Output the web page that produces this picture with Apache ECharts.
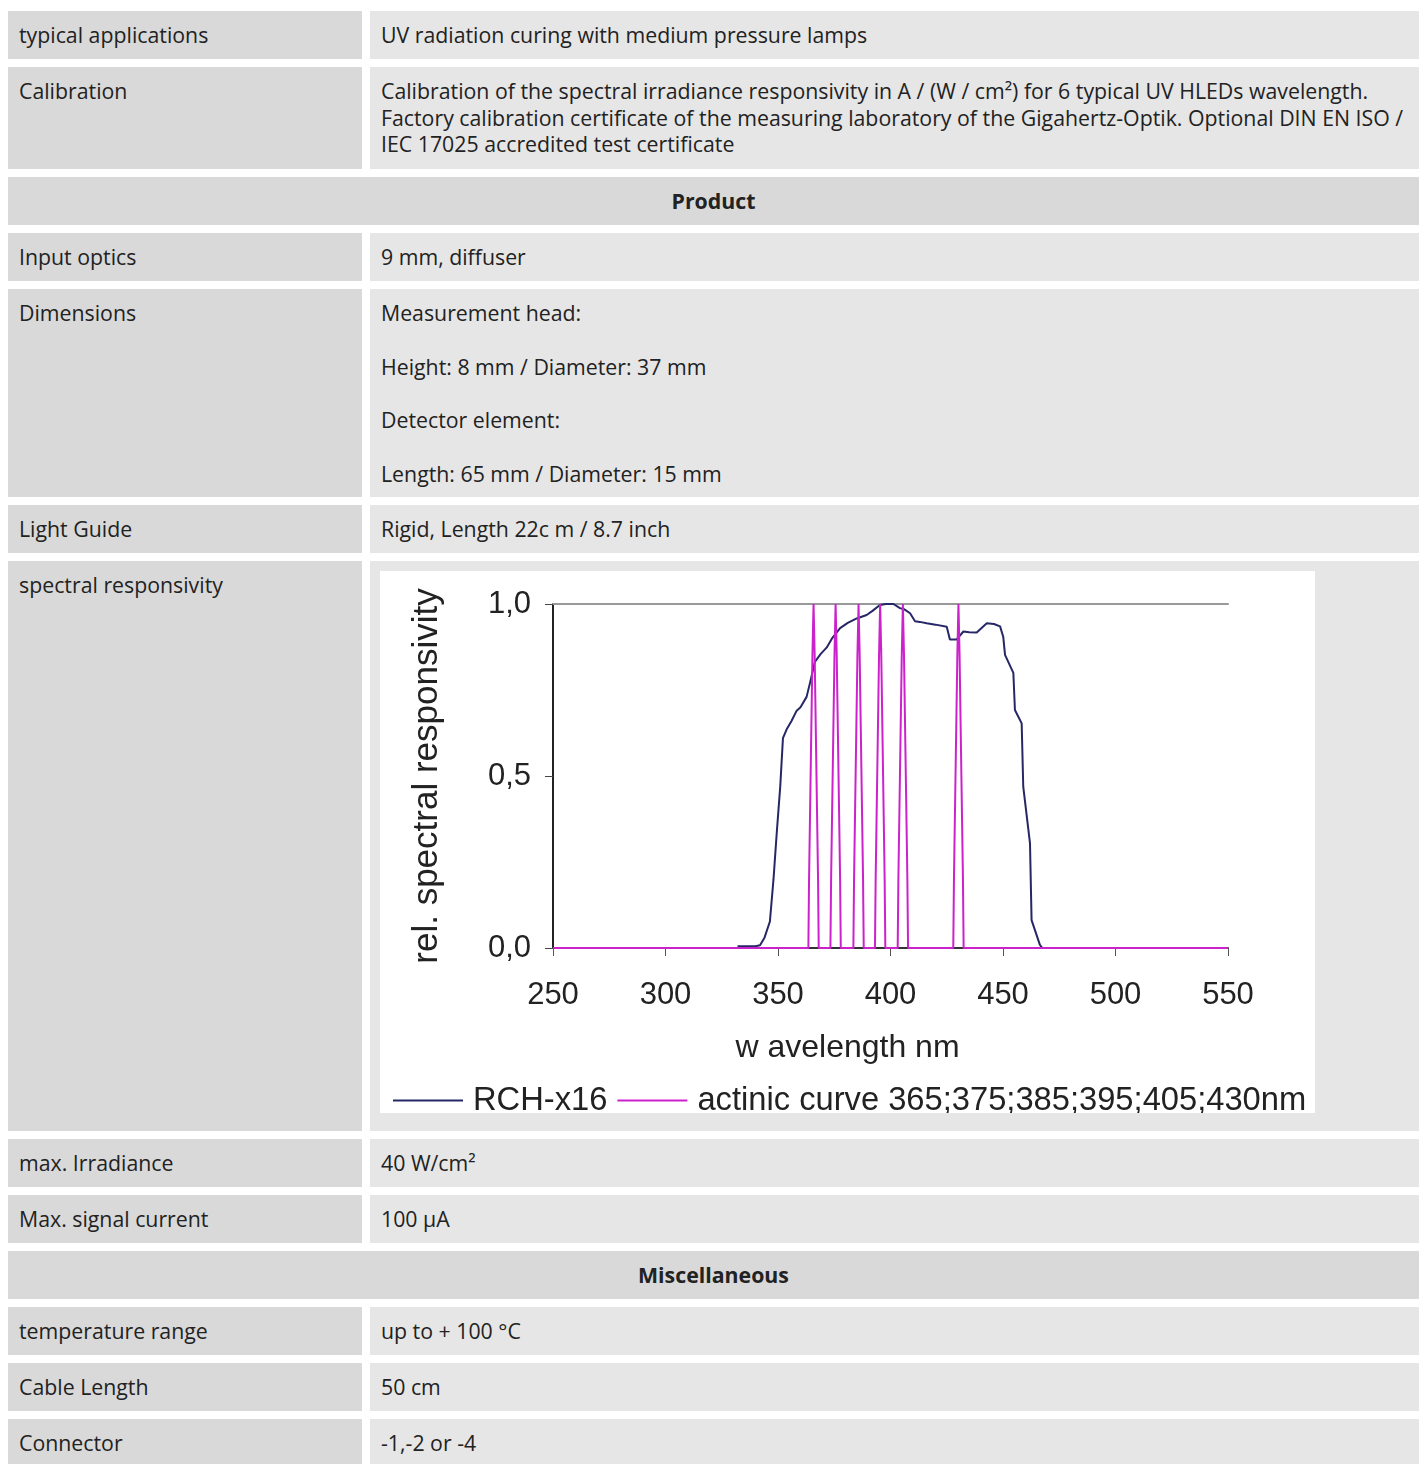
<!DOCTYPE html>
<html>
<head>
<meta charset="utf-8">
<script src="https://cdn.jsdelivr.net/npm/echarts@6/dist/echarts.min.js"></script>
<style>
  html, body { margin: 0; padding: 0; background: #fff; }
  body { width: 1419px; height: 1464px; overflow: hidden; font-family: "Open Sans", sans-serif; font-size: 21.3px; color: #222; }
  .wrap { position: absolute; left: 8px; top: 11px; width: 1411px; }
  .row { display: flex; margin-bottom: 8px; height: 48px; }
  .row.cal { height: 102px; }
  .row.dim { height: 208px; }
  .row.spec { height: 570px; }
  .l { width: 354px; background: #d9d9d9; padding: 11px 11px; box-sizing: border-box; line-height: 26.5px; flex: none; }
  .r { width: 1049px; margin-left: 8px; background: #e6e6e6; padding: 11px 11px; box-sizing: border-box; line-height: 26.5px; flex: none; }
  .h { width: 1411px; background: #d9d9d9; padding: 11px; box-sizing: border-box; line-height: 26.5px; text-align: center; font-weight: bold; }
  .r p { margin: 0 0 27px 0; }
  .r p:last-child { margin-bottom: 0; }
  .nw { white-space: nowrap; }
  #chart { width: 935px; height: 542px; background: #fff; }
  .chartcell { padding: 10px 10px 18px 10px; }
</style>
</head>
<body>
<div class="wrap">
  <div class="row"><div class="l">typical applications</div><div class="r">UV radiation curing with medium pressure lamps</div></div>
  <div class="row cal"><div class="l">Calibration</div><div class="r nw">Calibration of the spectral irradiance responsivity in A / (W / cm²) for 6 typical UV HLEDs wavelength.<br>Factory calibration certificate of the measuring laboratory of the Gigahertz-Optik. Optional DIN EN ISO /<br>IEC 17025 accredited test certificate</div></div>
  <div class="row"><div class="h">Product</div></div>
  <div class="row"><div class="l">Input optics</div><div class="r">9 mm, diffuser</div></div>
  <div class="row dim"><div class="l">Dimensions</div><div class="r"><p>Measurement head:</p><p>Height: 8 mm / Diameter: 37 mm</p><p>Detector element:</p><p>Length: 65 mm / Diameter: 15 mm</p></div></div>
  <div class="row"><div class="l">Light Guide</div><div class="r">Rigid, Length 22c m / 8.7 inch</div></div>
  <div class="row spec"><div class="l">spectral responsivity</div><div class="r chartcell"><div id="chart"></div></div></div>
  <div class="row"><div class="l">max. Irradiance</div><div class="r">40 W/cm²</div></div>
  <div class="row"><div class="l">Max. signal current</div><div class="r">100 µA</div></div>
  <div class="row"><div class="h">Miscellaneous</div></div>
  <div class="row"><div class="l">temperature range</div><div class="r">up to + 100 °C</div></div>
  <div class="row"><div class="l">Cable Length</div><div class="r">50 cm</div></div>
  <div class="row"><div class="l">Connector</div><div class="r">-1,-2 or -4</div></div>
</div>
<script>
// ---- data ----
const seriesNames = ["RCH-x16", "actinic curve 365;375;385;395;405;430nm"];
const xTicks = [250, 300, 350, 400, 450, 500, 550];
const yTickLabels = ["0,0", "0,5", "1,0"];

const rchWavelength = [332, 340, 342, 344, 346.4, 348, 349.5, 351, 352.2, 353.8, 356, 358.3, 360, 362.7, 364.2, 366.4, 369, 371.6, 374, 377.6, 381, 385, 389.4, 392, 395.3, 398, 401.3, 404.2, 406, 408.7, 410.9, 413, 416.1, 420, 425, 426.4, 429.4, 432.4, 435, 438.3, 442.8, 446, 448.7, 450.1, 450.9, 454.6, 455.3, 458.3, 459, 462, 462.7, 466.4, 467.5];
const rchValue      = [0.005, 0.005, 0.008, 0.03, 0.077, 0.2, 0.34, 0.47, 0.61, 0.635, 0.66, 0.69, 0.70, 0.73, 0.77, 0.832, 0.855, 0.873, 0.90, 0.93, 0.945, 0.958, 0.968, 0.98, 0.997, 1.0, 1.0, 0.988, 0.985, 0.973, 0.95, 0.948, 0.944, 0.94, 0.934, 0.897, 0.897, 0.92, 0.918, 0.917, 0.944, 0.942, 0.935, 0.905, 0.852, 0.80, 0.692, 0.653, 0.469, 0.304, 0.081, 0.009, 0];

const actinicWavelength = [250,
  363.5, 363.8, 365.3, 365.8, 366.3, 367.8, 368.1,
  373.3, 373.6, 375.1, 375.6, 376.1, 377.6, 377.9,
  383.5, 383.8, 385.3, 385.8, 386.3, 387.8, 388.1,
  393.1, 393.4, 394.9, 395.4, 395.9, 397.4, 397.7,
  403.2, 403.5, 405.0, 405.5, 406.0, 407.5, 407.8,
  427.9, 428.2, 429.7, 430.2, 430.7, 432.2, 432.5,
  550];
const actinicValue = [0,
  0, 0.2, 0.85, 1, 0.85, 0.2, 0,
  0, 0.2, 0.85, 1, 0.85, 0.2, 0,
  0, 0.2, 0.85, 1, 0.85, 0.2, 0,
  0, 0.2, 0.85, 1, 0.85, 0.2, 0,
  0, 0.2, 0.85, 1, 0.85, 0.2, 0,
  0, 0.2, 0.85, 1, 0.85, 0.2, 0,
  0];

const pair = (xs, ys) => xs.map((x, i) => [x, ys[i]]);
const FONT = "'Liberation Sans', Arial, sans-serif";
const chart = echarts.init(document.getElementById('chart'));
chart.setOption({
  animation: false,
  backgroundColor: '#ffffff',
  textStyle: { fontFamily: FONT },
  grid: { left: 173, top: 33, width: 675, height: 344 },
  legend: {
    left: 8, top: 508, itemWidth: 70, itemHeight: 2, itemGap: 10, icon: 'rect',
    textStyle: { fontFamily: FONT, fontSize: 32.7, color: '#222', padding: [0, 0, 0, 5] },
    data: seriesNames
  },
  xAxis: [{
    type: 'value', min: xTicks[0], max: xTicks[xTicks.length - 1], interval: 50,
    name: 'w avelength nm', nameLocation: 'middle', nameGap: 84,
    nameTextStyle: { fontFamily: FONT, fontSize: 32, color: '#222', padding: [0, 86, 0, 0] },
    axisLine: { lineStyle: { color: '#333', width: 2 } },
    axisTick: { length: 8, lineStyle: { color: '#555', width: 1 } },
    axisLabel: { fontFamily: FONT, fontSize: 31, color: '#222', margin: 32 },
    splitLine: { show: false }
  }, {
    type: 'value', min: xTicks[0], max: xTicks[xTicks.length - 1], position: 'top',
    axisLine: { lineStyle: { color: '#999', width: 2 } },
    axisTick: { show: false }, axisLabel: { show: false }, splitLine: { show: false }
  }],
  yAxis: {
    type: 'value', min: 0, max: 1, interval: 0.5,
    name: 'rel. spectral responsivity', nameLocation: 'middle', nameGap: 108,
    nameTextStyle: { fontFamily: FONT, fontSize: 35, color: '#222' },
    axisLine: { show: true, lineStyle: { color: '#222', width: 2 } },
    axisTick: { show: true, length: 8, lineStyle: { color: '#444' } },
    axisLabel: { fontFamily: FONT, fontSize: 31, color: '#222', margin: 22,
      formatter: (v) => yTickLabels[Math.round(v * 2)] },
    splitLine: { show: false }
  },
  series: [{
    name: seriesNames[0], type: 'line', symbol: 'none', z: 2,
    lineStyle: { color: '#262766', width: 2 }, itemStyle: { color: '#262766' },
    data: pair(rchWavelength, rchValue)
  }, {
    name: seriesNames[1], type: 'line', symbol: 'none', z: 3,
    lineStyle: { color: '#cc22cc', width: 2 }, itemStyle: { color: '#cc22cc' },
    data: pair(actinicWavelength, actinicValue)
  }]
});
</script>
</body>
</html>
